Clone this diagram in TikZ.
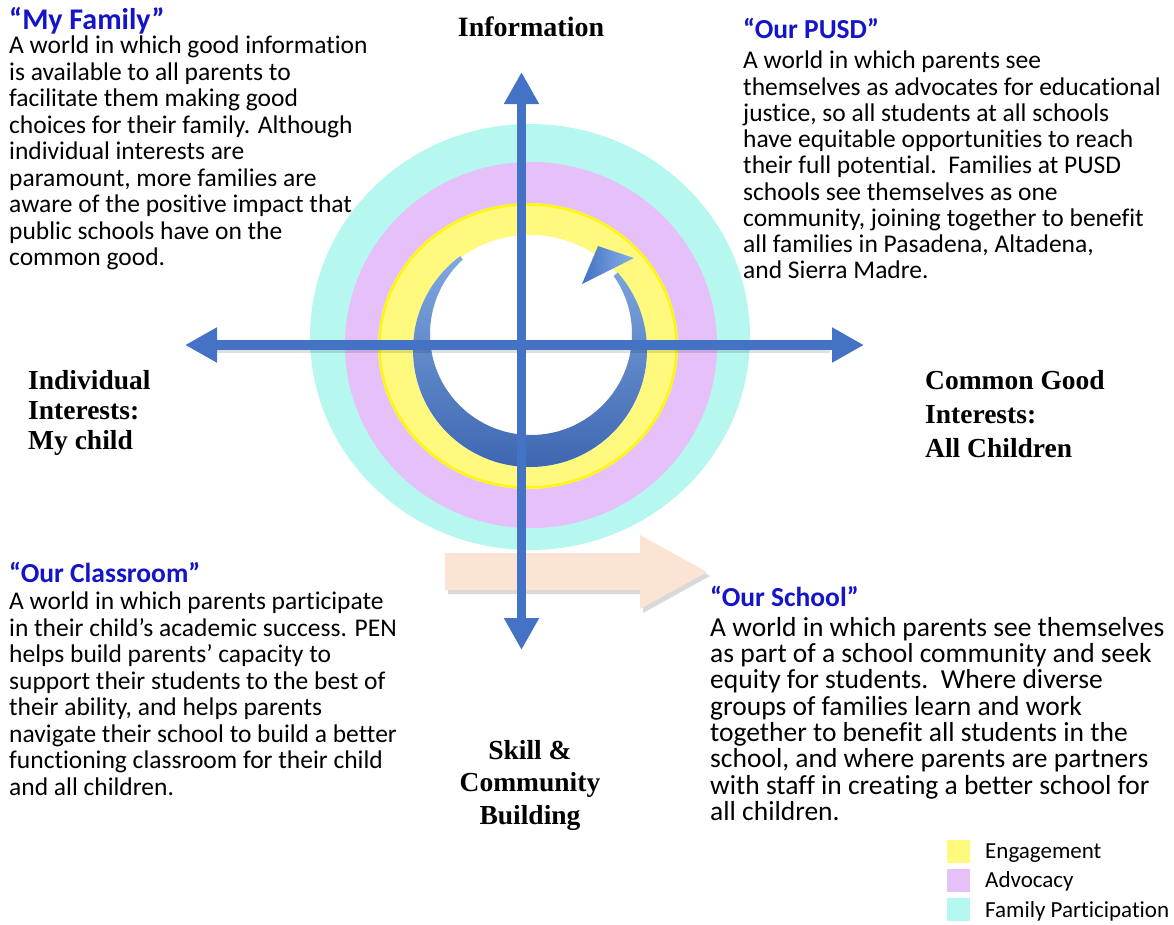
\documentclass[tikz,border=0pt]{standalone}
\usepackage{fontspec}
\setmainfont{Carlito}[Ligatures=NoCommon]
\newfontfamily\labelfont{Liberation Serif}
\usetikzlibrary{arrows.meta}
\definecolor{axisblue}{RGB}{68,114,196}
\definecolor{tipblue}{RGB}{135,175,230}
\definecolor{ringcyan}{RGB}{182,247,240}
\definecolor{ringviolet}{RGB}{230,192,248}
\definecolor{ringyellow}{RGB}{255,250,125}
\definecolor{yellowedge}{RGB}{255,245,20}
\definecolor{peach}{RGB}{252,228,212}
\definecolor{headblue}{RGB}{20,20,200}
\begin{document}
\begin{tikzpicture}[x=1pt,y=-1pt,
  axis/.style={draw=axisblue, line width=9.5pt,
    {Triangle[width=33pt,length=32pt]}-{Triangle[width=33pt,length=32pt]}},
  axisshadow/.style={draw=black, opacity=0.12, line width=9pt},
  head/.style={anchor=base west, inner sep=0pt, text=headblue,
    font=\fontsize{27.5}{30}\selectfont\bfseries},
  body/.style={anchor=north west, inner sep=0pt, align=left,
    font=\fontsize{25.5}{26.5}\selectfont},
  quadlabel/.style={inner sep=0pt, font=\fontsize{28}{32}\selectfont\labelfont\bfseries},
  legtext/.style={anchor=base west, inner sep=0pt, font=\fontsize{23}{24}\selectfont},
  legbox/.style={anchor=north west, minimum size=23pt, inner sep=0pt, draw=none}
]
\useasboundingbox[fill=white] (0,0) rectangle (1174,924);

% rings
\fill[ringcyan] (530,337) ellipse [x radius=220pt, y radius=213pt];
\fill[ringviolet] (531,345) ellipse [x radius=186pt, y radius=183pt];
\fill[ringyellow] (528,346) ellipse [x radius=150pt, y radius=143pt];
\draw[yellowedge, line width=2.5pt] (528,346) ellipse [x radius=148.5pt, y radius=141.5pt];
\fill[white] (530,351) ellipse [x radius=117pt, y radius=116pt];

% crescent arrow
\begin{scope}
  \clip (530,350) -- (411,190) -- (340,190) -- (340,520) -- (720,520) -- (720,182) -- cycle;
  \shade[top color=tipblue, bottom color=axisblue!90!black, even odd rule]
    (530,350) circle [radius=117pt] (531,334) circle [radius=101pt];
\end{scope}
\shade[left color=axisblue, right color=tipblue]
  (582,284) -- (598,246) -- (634,258) -- cycle;

% peach arrow
\fill[black, opacity=0.15] (448,557) -- (643,557) -- (643,539) -- (710,576) -- (643,613) -- (643,594) -- (448,594) -- cycle;
\fill[peach] (445,553) -- (640,553) -- (640,535) -- (707,572) -- (640,609) -- (640,590) -- (445,590) -- cycle;

% axes
\coordinate (vtop) at (521.5,72);
\coordinate (vbot) at (521.5,650);
\coordinate (hleft) at (185,345);
\coordinate (hright) at (864,345);
\draw[axisshadow] ([shift={(30,3)}]hleft) -- ([shift={(-34,3)}]hright);
\draw[axis] (vtop) -- (vbot);
\draw[axis] (hleft) -- (hright);

% quadrant texts
\node[head, font=\fontsize{30}{32}\selectfont\bfseries] (famh) at (9,29.5) {“My Family”};
\node[body] (famb) at (9,36) {\rule{0pt}{17pt}A world in which good information\\
is available to all parents to\\
facilitate them making good\\
choices for their family. Although\\
individual interests are\\
paramount, more families are\\
aware of the positive impact that\\
public schools have on the\\
common good.};

\node[head] (pusdh) at (743,38) {“Our PUSD”};
\node[body, font=\fontsize{25.5}{26.25}\selectfont] (pusdb) at (743,51) {\rule{0pt}{17pt}A world in which parents see\\
themselves as advocates for educational\\
justice, so all students at all schools\\
have equitable opportunities to reach\\
their full potential.\ \ Families at PUSD\\
schools see themselves as one\\
community, joining together to benefit\\
all families in Pasadena, Altadena,\\
and Sierra Madre.};

\node[head] (classh) at (9,582) {“Our Classroom”};
\node[body] (classb) at (9,592) {\rule{0pt}{17pt}A world in which parents participate\\
in their child’s academic success. PEN\\
helps build parents’ capacity to\\
support their students to the best of\\
their ability, and helps parents\\
navigate their school to build a better\\
functioning classroom for their child\\
and all children.};

\node[head] (schoolh) at (710,606) {“Our School”};
\node[body, font=\fontsize{27.5}{26.3}\selectfont] (schoolb) at (710,617) {\rule{0pt}{17pt}A world in which parents see themselves\\
as part of a school community and seek\\
equity for students.\ \ Where diverse\\
groups of families learn and work\\
together to benefit all students in the\\
school, and where parents are partners\\
with staff in creating a better school for\\
all children.};

% axis labels
\node[quadlabel, anchor=base] (info) at (531,36) {Information};
\node[quadlabel, anchor=north west, align=left, font=\fontsize{27.5}{30}\selectfont\labelfont\bfseries] (indiv) at (28,369) {\rule{0pt}{20pt}Individual\\Interests:\\My child};
\node[quadlabel, anchor=north west, align=left, font=\fontsize{27.5}{34}\selectfont\labelfont\bfseries] (common) at (925,369) {\rule{0pt}{20pt}Common Good\\Interests:\\All Children};
\node[quadlabel, anchor=north, align=center, font=\fontsize{27.5}{32.5}\selectfont\labelfont\bfseries] (skill) at (530,739) {\rule{0pt}{20pt}Skill \&\\Community\\Building};

% legend
\node[legbox, fill=ringyellow] (ly) at (947,840) {};
\node[legbox, fill=ringviolet] (lv) at (947,869) {};
\node[legbox, fill=ringcyan] (lc) at (947,898) {};
\node[legtext] (lyt) at (985,858) {Engagement};
\node[legtext] (lvt) at (985,887) {Advocacy};
\node[legtext] (lct) at (985,917) {Family Participation};
\end{tikzpicture}
\end{document}
